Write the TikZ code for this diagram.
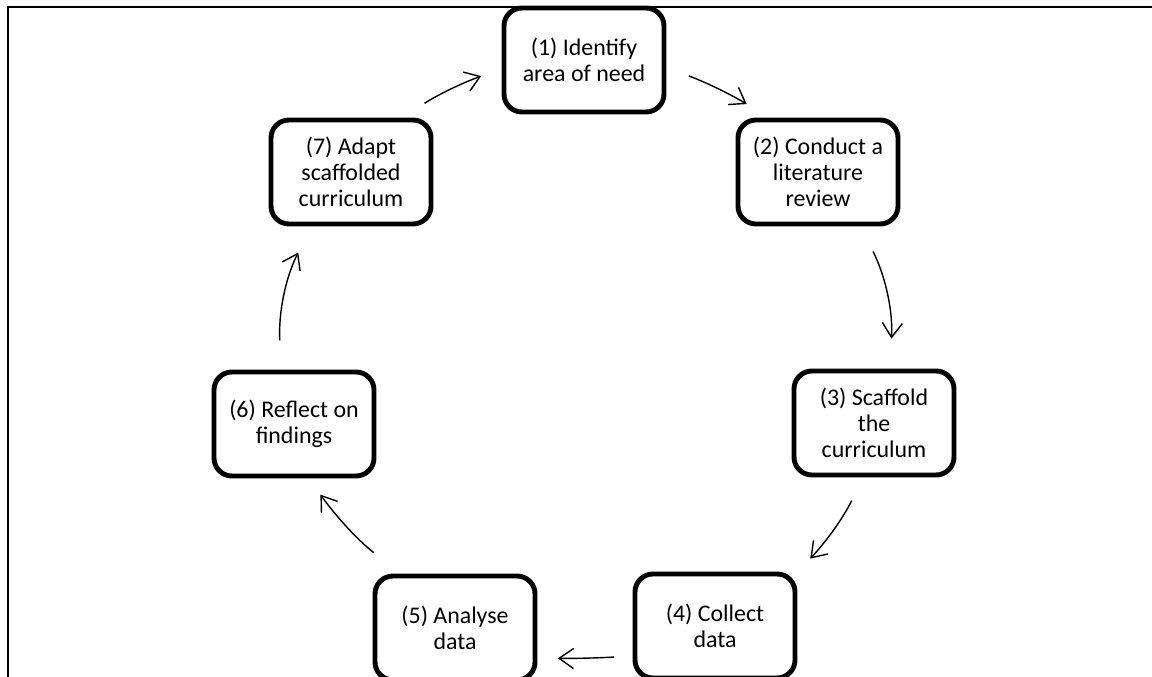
\documentclass[tikz,border=0pt]{standalone}
\usepackage{fontspec}
\setmainfont{Carlito}
\usepackage{tikz}
\usetikzlibrary{arrows.meta}
\tikzset{
  etapa/.style={rectangle,rounded corners=0.45cm,draw=black,line width=3.5pt,
    minimum width=4.0cm,minimum height=2.6cm,align=center,inner sep=2pt,
    font=\fontsize{17}{18.5}\selectfont},
  fluxo/.style={-{Straight Barb[length=3.6mm,width=5mm]},line width=1pt,black}
}

\begin{document}
\begin{tikzpicture}[x=0.025cm,y=0.025cm]
  \useasboundingbox (0,0) rectangle (1152,677);
  \clip (0,0) rectangle (1152,677);
  \draw[line width=1.4pt] (8,-5) -- (8,670) -- (1160,670);
  \foreach \n/\x/\y/\txt in {1/584/617/{(1) Identify\\area of need},
      2/818/505/{(2) Conduct a\\literature\\review},
      3/874/254/{(3) Scaffold\\the\\curriculum},
      4/715/51/{(4) Collect\\data},
      5/455/49/{(5) Analyse\\data},
      6/294/253/{(6) Reflect on\\findings},
      7/351/505/{(7) Adapt\\scaffolded\\curriculum}}
    {\node[etapa] (e\n) at (\x,\y) {\txt};}
  \foreach \a/\b/\oa/\ob/\sa/\sb/\dobra in {7/1/47.6/186.8/0.67/0.54/6,
      1/2/-5.3/132.3/0.60/0.65/5, 2/3/-52.3/74.2/0.70/0.75/15,
      3/4/-101.6/33.3/0.65/0.47/8, 4/5/-160.8/-20/0.46/0.51/2,
      5/6/135/-75.3/0.85/0.50/8, 6/7/103.8/-126/0.73/0.73/15}
    {\draw[fluxo,shorten <=\sa cm,shorten >=\sb cm]
      (e\a.\oa) to[bend left=\dobra] (e\b.\ob);}
\end{tikzpicture}
\end{document}
